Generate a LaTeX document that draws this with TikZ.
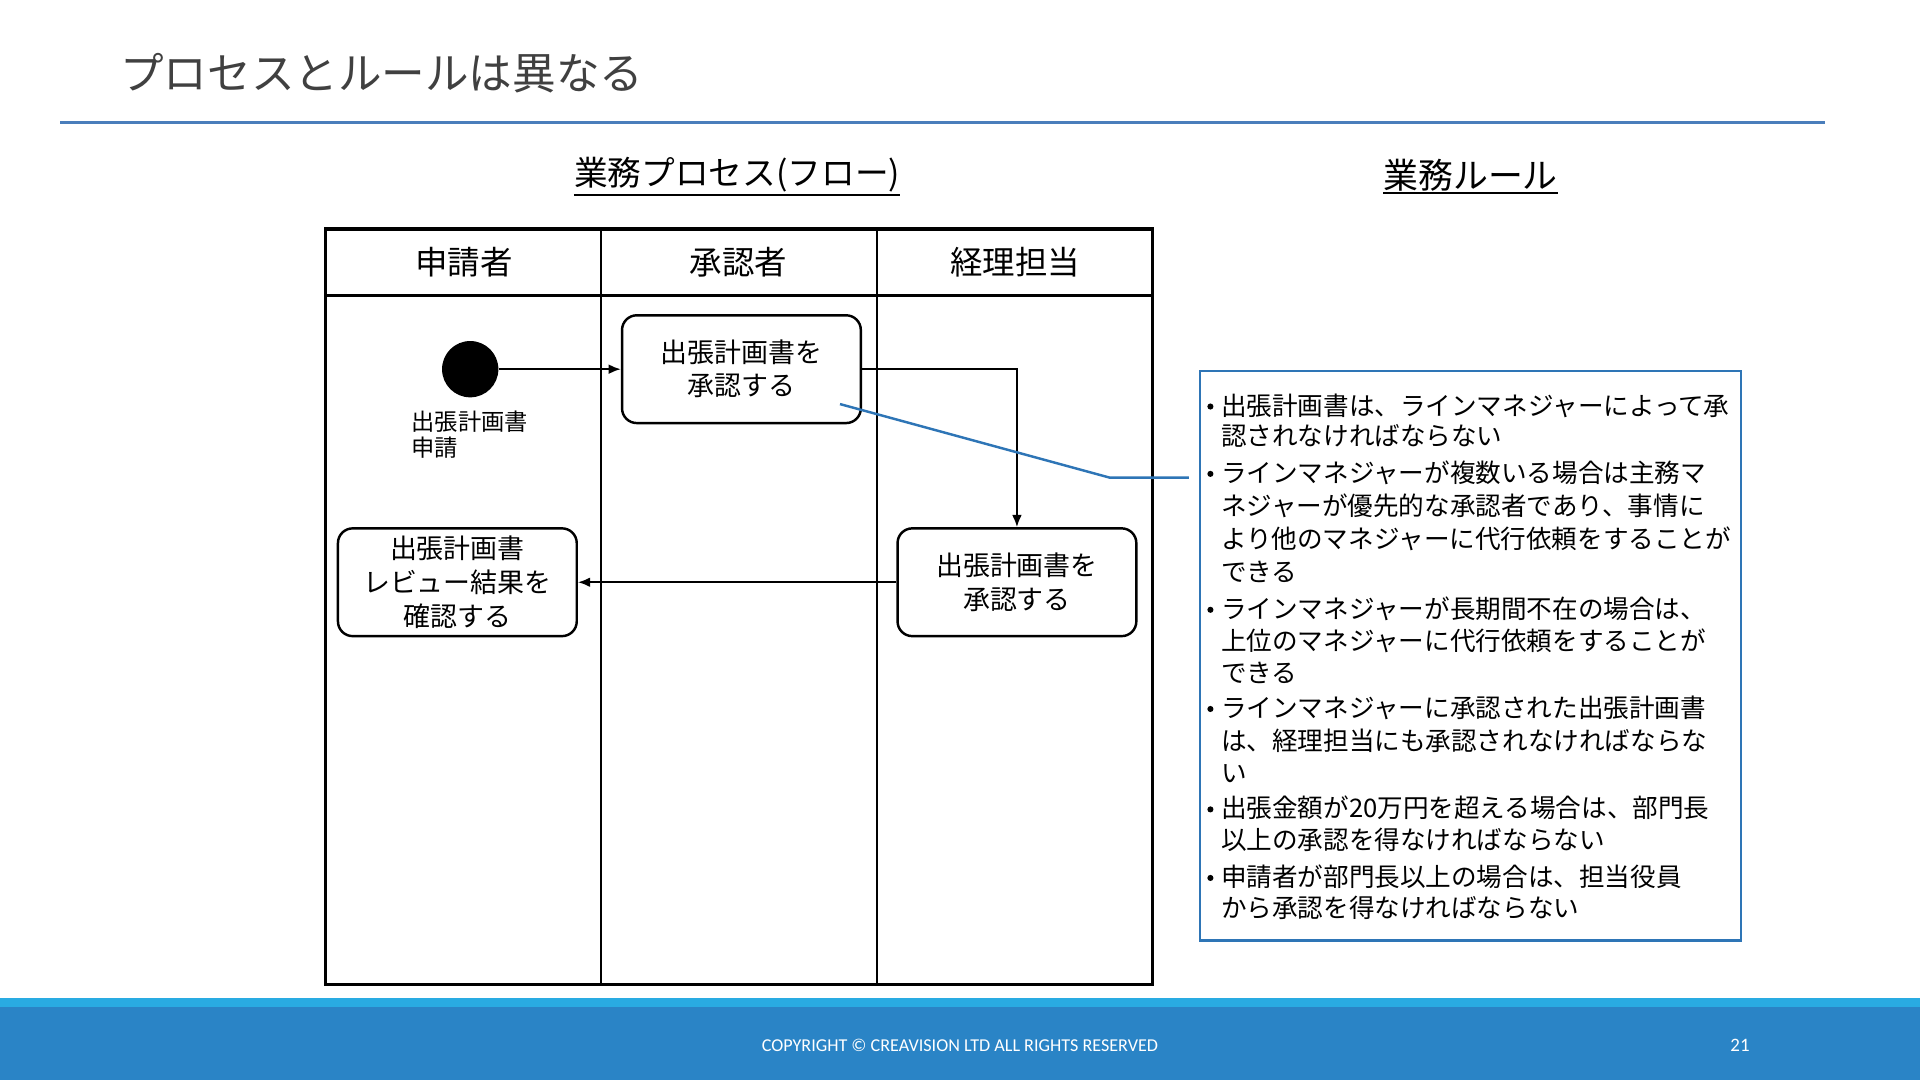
\documentclass[tikz,border=0pt]{standalone}
\usepackage{fontspec}
\newfontfamily\jp{Noto Sans CJK JP}
\newfontfamily\foot{Carlito}
\usetikzlibrary{arrows.meta,positioning}
\definecolor{titlegray}{HTML}{404040}
\definecolor{titleline}{HTML}{4A7EBB}
\definecolor{callblue}{HTML}{2E75B6}
\definecolor{bandlight}{HTML}{29ABE2}
\definecolor{banddark}{HTML}{2A84C6}
\tikzset{
  lanehead/.style={font=\jp\fontsize{26.5}{30}\selectfont},
  sechead/.style={font=\jp\fontsize{27.5}{32}\selectfont,inner xsep=0pt,inner ysep=1.5pt},
  actbox/.style={draw,line width=2pt,rounded corners=12pt,minimum width=195pt,
    minimum height=88pt,align=center,font=\jp\fontsize{22}{27}\selectfont},
  flow/.style={line width=1.5pt,-{Latex[length=10pt,width=8pt]}},
  ruletext/.style={anchor=base west,inner sep=0pt,font=\jp\fontsize{20.9}{25}\selectfont}
}
\begin{document}
\begin{tikzpicture}[x=1pt,y=-1pt]
\useasboundingbox[fill=white](0,0)rectangle(1568,882);
% title
\node[anchor=base west,inner sep=0pt,text=titlegray,font=\jp\fontsize{35.6}{42}\selectfont](title)at(98,73){プロセスとルールは異なる};
\draw[titleline,line width=3pt](49,100)--(1490,100);
% section heads
\node[sechead](flowhead)at(602,143){業務プロセス(フロー)};
\draw[line width=1.5pt](flowhead.south west)--(flowhead.south east);
\node[sechead,font=\jp\fontsize{28.5}{32}\selectfont](rulehead)at(1201,143){業務ルール};
\draw[line width=1.5pt](rulehead.south west)--(rulehead.south east);
% swimlanes
\draw[line width=2.5pt](266,187)rectangle(941,804);
\draw[line width=2.5pt](266,241)--(941,241);
\draw[line width=2pt](491,187)--(491,804);
\draw[line width=2pt](716,187)--(716,804);
\node[lanehead](lane1)at(379,214){申請者};
\node[lanehead](lane2)at(603,214){承認者};
\node[lanehead](lane3)at(829,214){経理担当};
% flow
\node[circle,fill=black,minimum size=46pt,inner sep=0pt](start)at(384,301.5){};
\node[anchor=north west,align=left,inner sep=0pt,font=\jp\fontsize{19}{22}\selectfont](startlbl)at(336,335){出張計画書\\申請};
\node[actbox](approve1)at(605.5,301.5){出張計画書を\\承認する};
\node[actbox](approve2)at(830.5,475.5){出張計画書を\\承認する};
\node[actbox,font=\jp\fontsize{22}{27.5}\selectfont](review)at(373.5,475.5){出張計画書\\レビュー結果を\\確認する};
\draw[flow](start)--(approve1);
\draw[flow](approve1.east)-|(approve2.north);
\draw[flow](approve2.west)--(review.east);
% rules
\coordinate(callfrom)at(686,330);
\coordinate(callbend)at(906,390);
\coordinate(callto)at(971,390);
\draw[callblue,line width=2pt](callfrom)--(callbend)--(callto);
\node[draw=callblue,line width=2pt,minimum width=442pt,minimum height=465pt](rules)at(1201,535.5){};
\foreach \y/\b/\t [count=\i] in {
  331/1/{出張計画書は、ラインマネジャーによって承},
  356/0/{認されなければならない},
  386/1/{ラインマネジャーが複数いる場合は主務マ},
  413/0/{ネジャーが優先的な承認者であり、事情に},
  440/0/{より他のマネジャーに代行依頼をすることが},
  467/0/{できる},
  497/1/{ラインマネジャーが長期間不在の場合は、},
  523/0/{上位のマネジャーに代行依頼をすることが},
  549/0/{できる},
  578/1/{ラインマネジャーに承認された出張計画書},
  605/0/{は、経理担当にも承認されなければならな},
  631/0/{い},
  660/1/{出張金額が20万円を超える場合は、部門長},
  686/0/{以上の承認を得なければならない},
  716/1/{申請者が部門長以上の場合は、担当役員},
  741/0/{から承認を得なければならない}}{
  \node[ruletext](rl\i)at(997,\y+8){\t};
  \ifnum\b=1 \fill(988.5,\y+1)circle(2.5pt);\fi
}
% footer
\fill[bandlight](0,815)rectangle(1568,822.5);
\fill[banddark](0,822.5)rectangle(1568,882);
\node[text=white,font=\foot\fontsize{14.8}{16}\selectfont](copy)at(784,854){COPYRIGHT © CREAVISION LTD ALL RIGHTS RESERVED};
\node[text=white,font=\foot\fontsize{15.5}{17}\selectfont](page)at(1421,854){21};
\end{tikzpicture}
\end{document}
